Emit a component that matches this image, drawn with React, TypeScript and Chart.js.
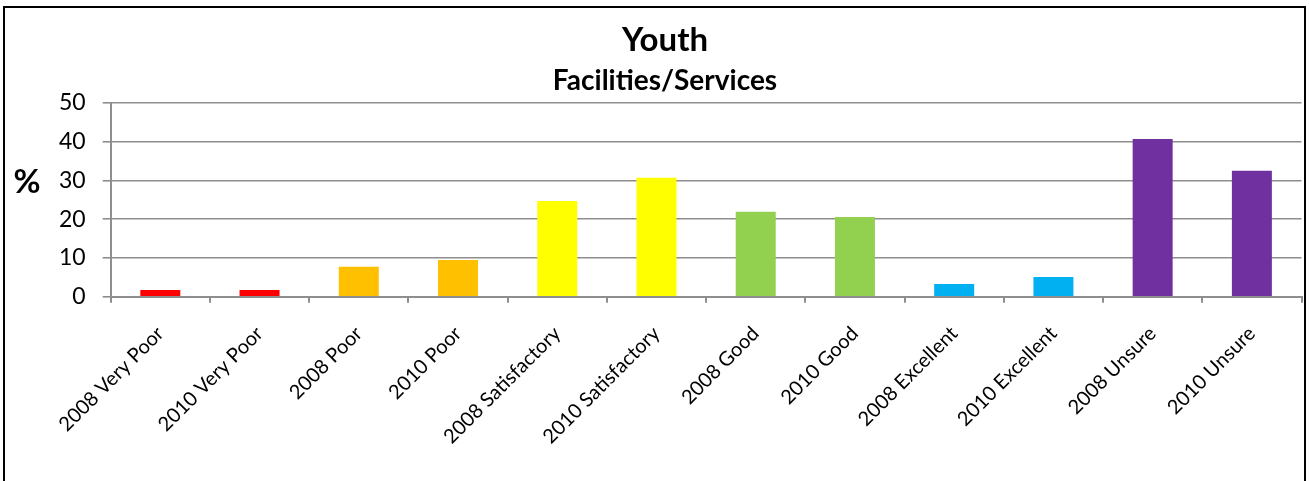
import React, { useEffect, useRef } from "react";
import { Chart, registerables } from "chart.js";

Chart.register(...registerables);

const categories = [
  "2008 Very Poor",
  "2010 Very Poor",
  "2008 Poor",
  "2010 Poor",
  "2008 Satisfactory",
  "2010 Satisfactory",
  "2008 Good",
  "2010 Good",
  "2008 Excellent",
  "2010 Excellent",
  "2008 Unsure",
  "2010 Unsure",
];
const values = [1.7, 1.7, 7.7, 9.5, 24.7, 30.7, 21.9, 20.6, 3.3, 5.1, 40.7, 32.5];
const barColors = [
  "#FF0000", "#FF0000",
  "#FFC000", "#FFC000",
  "#FFFF00", "#FFFF00",
  "#92D050", "#92D050",
  "#00B0F0", "#00B0F0",
  "#7030A0", "#7030A0",
];
const yMin = 0;
const yMax = 50;
const yStep = 10;
const chartTitle = "Youth";
const chartSubtitle = "Facilities/Services";
const yAxisLabel = "%";

const FONT = "Lato, 'Open Sans', sans-serif";
const GRID = "#8E8E8E";

export default function App() {
  const ref = useRef<HTMLCanvasElement>(null);

  useEffect(() => {
    const yLabelPlugin = {
      id: "yLabelPlain",
      afterDraw(chart: any) {
        const ctx = chart.ctx;
        ctx.save();
        ctx.font = `bold 33px ${FONT}`;
        ctx.fillStyle = "#000";
        ctx.textAlign = "center";
        ctx.textBaseline = "middle";
        ctx.fillText(yAxisLabel, 27, 182);
        ctx.restore();
      },
    };

    const chart = new Chart(ref.current!, {
      type: "bar",
      data: {
        labels: categories,
        datasets: [
          {
            data: values,
            backgroundColor: barColors,
            borderWidth: 0,
            categoryPercentage: 1,
            barPercentage: 0.403,
          },
        ],
      },
      options: {
        responsive: false,
        animation: false,
        layout: { padding: { left: 28.5, right: 7.5, top: 0, bottom: 0 } },
        plugins: {
          legend: { display: false },
          tooltip: { enabled: false },
          title: {
            display: true,
            text: chartTitle,
            color: "#000",
            font: { family: FONT, size: 33, weight: "bold" },
            padding: { top: 20.2, bottom: 0 },
          },
          subtitle: {
            display: true,
            text: chartSubtitle,
            color: "#000",
            font: { family: FONT, size: 28, weight: "bold" },
            padding: { top: 4.4, bottom: 5.2 },
          },
        },
        scales: {
          x: {
            type: "category",
            offset: true,
            afterFit(scale: any) {
              scale.height = 184.3;
            },
            grid: {
              offset: true,
              drawOnChartArea: false,
              drawTicks: true,
              tickLength: 6,
              color: GRID,
              lineWidth: 2,
            },
            border: { display: true, color: GRID, width: 2 },
            ticks: {
              color: "#000",
              font: { family: FONT, size: 20 },
              minRotation: 45,
              maxRotation: 45,
              autoSkip: false,
              padding: 19,
            },
          },
          y: {
            min: yMin,
            max: yMax,
            afterFit(scale: any) {
              scale.width = 82.2;
            },
            grid: {
              color: GRID,
              lineWidth: 1.6,
              tickLength: 8,
              drawTicks: true,
            },
            border: { display: true, color: GRID, width: 2 },
            ticks: {
              stepSize: yStep,
              color: "#000",
              font: { family: FONT, size: 23 },
              padding: 17,
            },
          },
        },
      },
      plugins: [yLabelPlugin],
    });
    return () => chart.destroy();
  }, []);

  return (
    <div
      style={{
        position: "fixed",
        left: 0,
        top: 0,
        width: 1309,
        height: 481,
        background: "#fff",
        overflow: "hidden",
      }}
    >
      <canvas
        ref={ref}
        width={1309}
        height={481}
        style={{ position: "absolute", left: 0, top: 0, width: 1309, height: 481 }}
      />
      <div
        style={{
          position: "absolute",
          left: 3,
          top: 6,
          width: 1303,
          height: 540,
          border: "2px solid #000",
          boxSizing: "border-box",
          pointerEvents: "none",
        }}
      />
    </div>
  );
}
